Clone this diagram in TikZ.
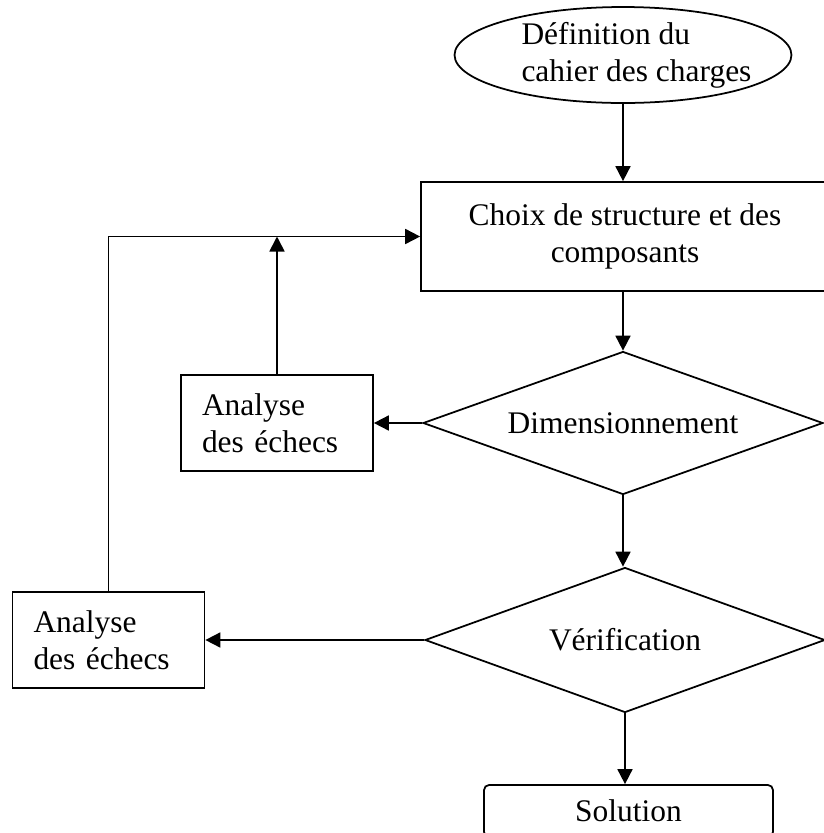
\documentclass[tikz,border=0pt]{standalone}
\usepackage{fontspec}
\setmainfont{Liberation Serif}
\usetikzlibrary{shapes.geometric,arrows.meta}
\begin{document}
\begin{tikzpicture}[x=0.02cm,y=-0.02cm,line width=1pt,
    font=\fontsize{17.9pt}{21pt}\selectfont,
    arr/.style={-{Triangle[length=0.3cm,width=0.3cm]}},
    box/.style={draw,rectangle,inner sep=0pt},
    echec/.style={draw,rectangle,align=left,text width=3cm,inner xsep=0.42cm,inner ysep=0pt,minimum height=1.92cm},
    test/.style={draw,diamond,shape aspect=2.8,inner sep=0pt,minimum width=8cm,minimum height=2.86cm}]

        \useasboundingbox (0,0) rectangle (823,833);

        \node (def) [draw,ellipse,inner sep=0pt,minimum width=6.74cm,minimum height=1.92cm,
          label={[name=deftxt,align=left,inner sep=0pt,anchor=west,xshift=1.34cm]west:Définition du\\cahier des charges}] at (623,55) {};

        \node (choix) [box,align=center,minimum width=8.16cm,minimum height=2.18cm] at (625,236.5) {Choix de structure et des\\composants};

        \node (dim)   [test] at (623,423) {Dimensionnement};
        \node (verif) [test,minimum height=2.9cm] at (625,640) {Vérification};

        \node (ech1) [echec] at (277,423)   {Analyse\\des échecs};
        \node (ech2) [echec] at (108.5,640) {Analyse\\des échecs};

        \node (sol) [box,rounded corners=0.1cm,minimum width=5.78cm,minimum height=1.04cm] at (628.5,811) {Solution};

        \draw [arr] (def) -- (def |- choix.north);
        \draw [arr] (dim.north |- choix.south) -- (dim.north);
        \draw [arr] (dim.south) -- (dim.south |- verif.north);
        \draw [arr] (verif.south) -- (verif.south |- sol.north);

        \draw [arr] (dim.west) -- (ech1.east);
        \draw [arr] (verif.west) -- (ech2.east);

        \draw [arr] (ech1.north) -- (ech1.north |- choix.west);
        \draw [arr] (ech2.north) |- (choix.west);
      \end{tikzpicture}
\end{document}
